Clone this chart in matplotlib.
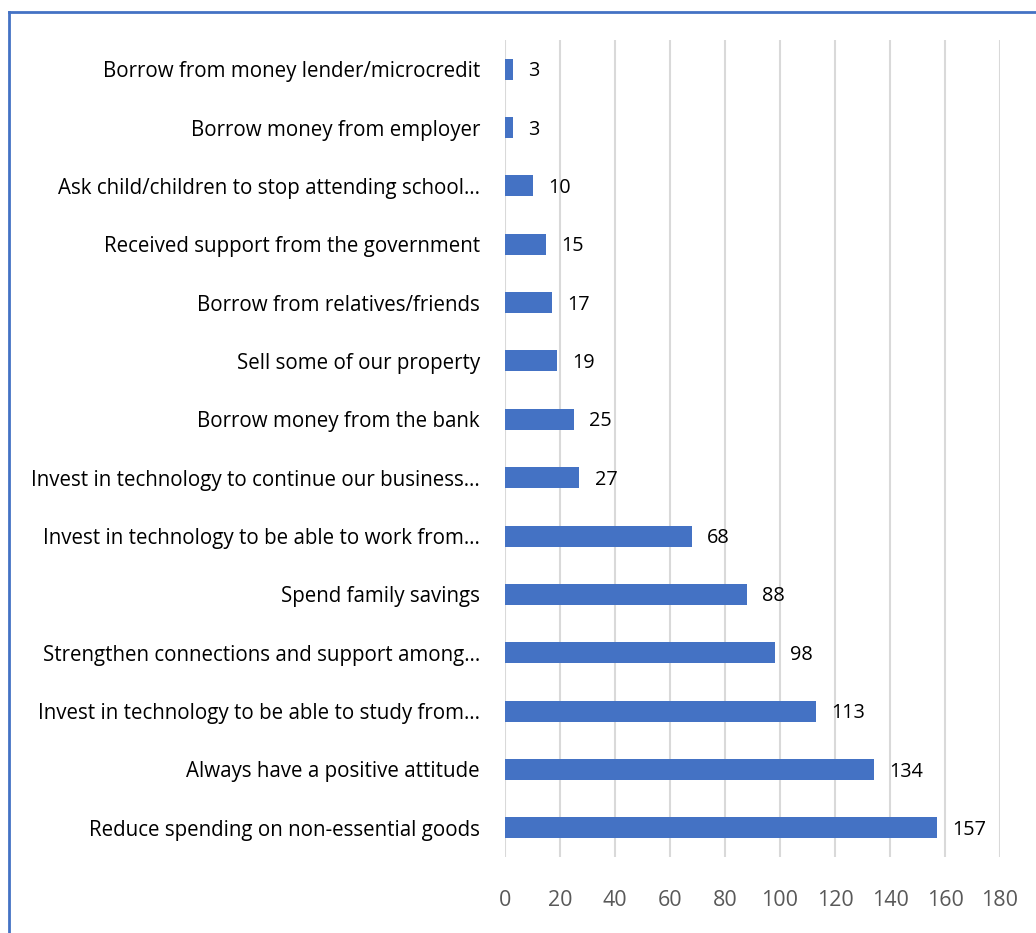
import matplotlib
matplotlib.use("Agg")
import matplotlib.pyplot as plt
from matplotlib.lines import Line2D

categories = [
    "Borrow from money lender/microcredit",
    "Borrow money from employer",
    "Ask child/children to stop attending school…",
    "Received support from the government",
    "Borrow from relatives/friends",
    "Sell some of our property",
    "Borrow money from the bank",
    "Invest in technology to continue our business…",
    "Invest in technology to be able to work from…",
    "Spend family savings",
    "Strengthen connections and support among…",
    "Invest in technology to be able to study from…",
    "Always have a positive attitude",
    "Reduce spending on non-essential goods",
]
values = [3, 3, 10, 15, 17, 19, 25, 27, 68, 88, 98, 113, 134, 157]
xticks = [0, 20, 40, 60, 80, 100, 120, 140, 160, 180]

plt.rcParams['font.family'] = ['Open Sans', 'DejaVu Sans']

W, H = 1036, 933
fig = plt.figure(figsize=(W/100, H/100), dpi=100)
ax = fig.add_axes([505/W, 1-857/H, (1000-505)/W, (857-40)/H])

y = list(range(len(categories)))
ax.barh(y, values, height=0.36, color="#4472C4", zorder=3)
for yi, v in zip(y, values):
    ax.annotate(str(v), (v, yi), xytext=(11, -1.5), textcoords="offset points",
                va="center", ha="left", fontsize=14.3, color="black")

ax.set_yticks(y)
ax.set_yticklabels(categories, fontsize=14.8, color="black")
ax.set_ylim(len(categories)-0.5, -0.5)
ax.set_xlim(0, 180)
ax.set_xticks(xticks)
ax.set_xticklabels([str(t) for t in xticks], fontsize=15.5, color="#595959")
ax.tick_params(axis='y', length=0, pad=18)
ax.tick_params(axis='x', length=0, pad=24)
ax.grid(axis='x', color="#d9d9d9", linewidth=1.5, zorder=0)
for s in ax.spines.values():
    s.set_visible(False)

border = "#4472C4"
fig.add_artist(Line2D([9/W, 9/W], [0, 1-12/H], transform=fig.transFigure, color=border, linewidth=2))
fig.add_artist(Line2D([9/W, 1], [1-12/H, 1-12/H], transform=fig.transFigure, color=border, linewidth=2))

fig.savefig("out.png", dpi=100)
